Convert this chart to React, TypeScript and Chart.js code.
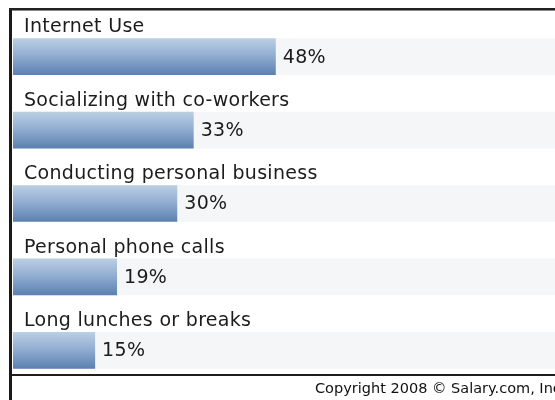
import React, { useEffect, useRef } from "react";
import { Chart, registerables } from "chart.js";

Chart.register(...registerables);

const categories = [
  "Internet Use",
  "Socializing with co-workers",
  "Conducting personal business",
  "Personal phone calls",
  "Long lunches or breaks",
];
const values = [48, 33, 30, 19, 15];
const valueLabels = ["48%", "33%", "30%", "19%", "15%"];
const axisMax = 99;
const trackValues = categories.map(() => axisMax);
const copyrightText = "Copyright 2008 © Salary.com, Inc.";

const FONT = '"DejaVu Sans", Verdana, sans-serif';

const framePlugin = {
  id: "frame",
  beforeDraw(chart: any) {
    const { ctx, width, height } = chart;
    ctx.save();
    ctx.fillStyle = "#ffffff";
    ctx.fillRect(0, 0, width, height);
    ctx.restore();
  },
  afterDraw(chart: any) {
    const { ctx, width, height } = chart;
    ctx.save();
    ctx.fillStyle = "#1a1a1a";
    ctx.fillRect(9, 8, 3, height - 8);
    ctx.fillStyle = "#222222";
    ctx.fillRect(9, 8, width - 9, 2);
    ctx.fillStyle = "#888888";
    ctx.fillRect(12, 10, width - 12, 1);
    ctx.fillStyle = "#1e1e1e";
    ctx.fillRect(12, 374, width - 12, 2);
    ctx.fillStyle = "#111111";
    ctx.font = `14.5px ${FONT}`;
    ctx.textAlign = "left";
    ctx.textBaseline = "middle";
    ctx.fillText(copyrightText, 315, 389);
    ctx.restore();
  },
};

const labelPlugin = {
  id: "barLabels",
  afterDatasetsDraw(chart: any) {
    const { ctx } = chart;
    const meta = chart.getDatasetMeta(0);
    ctx.save();
    ctx.fillStyle = "#1c1c1c";
    ctx.font = `19px ${FONT}`;
    (ctx as any).letterSpacing = "0.3px";
    meta.data.forEach((el: any, i: number) => {
      const top = el.y - el.height / 2;
      ctx.textAlign = "left";
      ctx.textBaseline = "alphabetic";
      ctx.fillText(categories[i], 24, top - 6);
      ctx.textBaseline = "middle";
      ctx.fillText(valueLabels[i], el.x + 7, el.y + 1);
    });
    ctx.restore();
  },
};

export default function App() {
  const ref = useRef<HTMLCanvasElement | null>(null);

  useEffect(() => {
    if (!ref.current) return;
    const chart = new Chart(ref.current, {
      type: "bar",
      data: {
        labels: categories,
        datasets: [
          {
            data: values,
            grouped: false,
            categoryPercentage: 1,
            barPercentage: 0.5,
            borderWidth: 0,
            backgroundColor: (c: any) => {
              const ch = c.chart;
              const ys = ch.scales?.y;
              if (!ys || typeof c.dataIndex !== "number") return "#7f9fc7";
              const center = ys.getPixelForValue(c.dataIndex);
              if (!Number.isFinite(center)) return "#7f9fc7";
              const half = 18.4;
              const g = ch.ctx.createLinearGradient(0, center - half, 0, center + half);
              g.addColorStop(0, "#bccfe4");
              g.addColorStop(0.45, "#93afd2");
              g.addColorStop(1, "#5a80b0");
              return g;
            },
          } as any,
          {
            data: trackValues,
            grouped: false,
            categoryPercentage: 1,
            barPercentage: 0.5,
            borderWidth: 0,
            backgroundColor: "#f5f6f7",
          } as any,
        ],
      },
      options: {
        indexAxis: "y",
        responsive: false,
        animation: false,
        layout: { padding: { left: 13, right: 0, top: 20, bottom: 13 } },
        plugins: {
          legend: { display: false },
          tooltip: { enabled: false },
        },
        scales: {
          x: { display: false, min: 0, max: axisMax },
          y: { display: false },
        },
      },
      plugins: [framePlugin, labelPlugin],
    });
    chart.update();
    return () => chart.destroy();
  }, []);

  return (
    <div style={{ position: "fixed", left: 0, top: 0, width: 555, height: 400 }}>
      <canvas ref={ref} width={555} height={400} style={{ display: "block" }} />
    </div>
  );
}
